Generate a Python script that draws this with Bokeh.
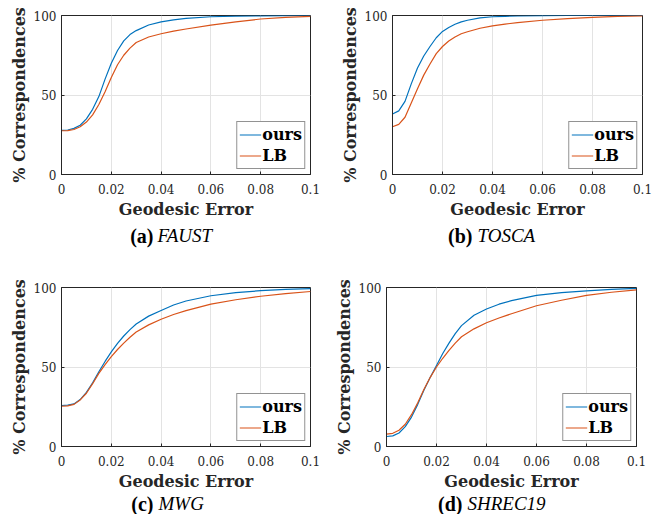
from bokeh.plotting import figure
from bokeh.layouts import column, row
from bokeh.models import Range1d, FixedTicker, Legend, LegendItem
from bokeh.core.properties import value
from bokeh.embed import file_html
from bokeh.resources import INLINE

# ---------------- data ----------------
geo_error = [0, 0.0025, 0.005, 0.0075, 0.01, 0.0125, 0.015, 0.0175, 0.02, 0.0225,
             0.025, 0.0275, 0.03, 0.035, 0.04, 0.045, 0.05, 0.06, 0.07, 0.08, 0.09, 0.1]

faust_ours = [27.8, 28, 29, 31, 35, 41, 49, 60, 70, 78, 84, 88, 90.5, 94, 96, 97.3, 98.2, 99.2, 99.6, 99.8, 99.9, 100]
faust_lb = [27.5, 27.6, 28.3, 30, 33, 37.5, 44, 52, 61, 69, 75, 79.5, 83, 86.5, 88.5, 90.2, 91.5, 94, 96, 97.8, 98.8, 99.5]

tosca_ours = [38, 40, 46, 57, 67, 74.5, 80.5, 86, 90, 92.5, 94.5, 96, 97, 98.5, 99.2, 99.5, 99.7, 99.9, 100, 100, 100, 100]
tosca_lb = [30, 31.5, 36, 45, 54, 62.5, 69.5, 76, 80.5, 84, 86.5, 88.5, 89.8, 92, 93.5, 94.6, 95.5, 97, 98, 98.8, 99.4, 99.8]

mwg_ours = [25.8, 26, 26.8, 29.5, 34, 40, 47, 53.5, 59.5, 64.8, 69.5, 73.5, 77, 82, 85.5, 89, 91.5, 94.8, 96.8, 98, 98.8, 99.3]
mwg_lb = [25.3, 25.5, 26.5, 29.3, 33.5, 39.5, 46, 51.5, 56.5, 61, 65, 68.7, 72, 76.5, 80, 83, 85.5, 89.5, 92.3, 94.5, 96.2, 97.5]

shrec_ours = [6.3, 6.7, 8.5, 12.5, 18.5, 26.5, 35.5, 43.5, 51, 58.5, 65, 71, 76, 82.5, 86.5, 89.5, 91.7, 95, 96.8, 97.9, 98.8, 99.4]
shrec_lb = [7.8, 8.3, 10.2, 14, 20, 27.5, 36, 43.5, 50, 55.5, 60.5, 65, 69, 74, 77.8, 80.8, 83.5, 88.5, 92, 95, 97, 98.5]

x_ticks = [0, 0.02, 0.04, 0.06, 0.08, 0.1]
x_tick_labels = ["0", "0.02", "0.04", "0.06", "0.08", "0.1"]
y_ticks = [0, 50, 100]
y_tick_labels = ["0", "50", "100"]

series_names = ["ours", "LB"]
caption_tags = ["(a)", "(b)", "(c)", "(d)"]
caption_names = ["FAUST", "TOSCA", "MWG", "SHREC19"]
x_label = "Geodesic Error"
y_label = "% Correspondences"

# ---------------- style ----------------
BLUE = "#0072BD"
ORANGE = "#D95319"
AX = "#262626"
FONT = "DejaVu Serif"
CAP_FONT = "Liberation Serif"


def make_panel(ours, lb, bl, br, bt, bb, fw, fh):
    p = figure(frame_width=fw, frame_height=fh, output_backend="svg", toolbar_location=None,
               x_range=Range1d(0, 0.1), y_range=Range1d(0, 100),
               min_border_left=bl, min_border_right=br, min_border_top=bt, min_border_bottom=bb,
               background_fill_color="white", border_fill_color="white")
    p.outline_line_color = AX
    p.outline_line_width = 1
    p.outline_line_alpha = 1

    for ax in (p.xaxis[0], p.yaxis[0]):
        ax.axis_line_color = AX
        ax.major_tick_line_color = AX
        ax.major_tick_in = 3
        ax.major_tick_out = 0
        ax.minor_tick_line_color = None
        ax.major_label_text_font = FONT
        ax.major_label_text_font_size = "12px"
        ax.major_label_text_color = AX
        ax.axis_label_text_font = FONT
        ax.axis_label_text_font_style = "bold"
        ax.axis_label_text_color = AX

    p.xaxis.axis_label_text_font_size = "16px"
    p.yaxis.axis_label_text_font_size = "16px"
    p.xaxis.ticker = FixedTicker(ticks=x_ticks)
    p.xaxis.major_label_overrides = {t: s for t, s in zip(x_ticks, x_tick_labels)}
    p.yaxis.ticker = FixedTicker(ticks=y_ticks)
    p.yaxis.major_label_overrides = {t: s for t, s in zip(y_ticks, y_tick_labels)}
    p.xaxis.axis_label = x_label
    p.yaxis.axis_label = y_label
    p.xaxis.major_label_standoff = 9
    p.xaxis.axis_label_standoff = 3
    p.yaxis.major_label_standoff = 5
    p.yaxis.axis_label_standoff = 2

    p.xgrid.grid_line_color = "#e3e3e3"
    p.ygrid.grid_line_color = "#e3e3e3"
    p.xgrid.ticker = FixedTicker(ticks=x_ticks[1:-1])
    p.ygrid.ticker = FixedTicker(ticks=y_ticks[1:-1])

    r1 = p.line(geo_error, ours, line_color=BLUE, line_width=1.2)
    r2 = p.line(geo_error, lb, line_color=ORANGE, line_width=1.2)

    leg = Legend(items=[LegendItem(label=series_names[0], renderers=[r1]),
                        LegendItem(label=series_names[1], renderers=[r2])],
                 location="bottom_right", margin=5, padding=2, spacing=0,
                 glyph_width=22, glyph_height=21, label_height=21, label_standoff=1,
                 label_text_font=FONT, label_text_font_style="bold",
                 label_text_font_size="16px", label_text_color="black",
                 label_text_baseline="middle",
                 border_line_color=AX, border_line_width=1,
                 background_fill_color="white", background_fill_alpha=1)
    p.add_layout(leg, "center")
    return p


def make_caption(tag, name, w, h, split, yc):
    c = figure(width=w, height=h, output_backend="svg", toolbar_location=None,
               x_range=Range1d(0, w), y_range=Range1d(0, h),
               x_axis_location=None, y_axis_location=None,
               min_border=0, min_border_left=0, min_border_right=0,
               min_border_top=0, min_border_bottom=0,
               background_fill_color="white", border_fill_color="white")
    c.outline_line_color = None
    c.grid.visible = False
    c.text(x=[split[0]], y=[yc], text=[tag], text_align="right", text_baseline="middle",
           text_font=value(CAP_FONT), text_font_style="bold", text_font_size="20px",
           text_color="black")
    c.text(x=[split[1]], y=[yc], text=[name], text_align="left", text_baseline="middle",
           text_font=value(CAP_FONT), text_font_style="italic", text_font_size="19px",
           text_color="black")
    return c


pa = make_panel(faust_ours, faust_lb, 61, 20, 15, 51, 249, 159)
pb = make_panel(tosca_ours, tosca_lb, 62, 21, 15, 51, 250, 159)
pc = make_panel(mwg_ours, mwg_lb, 61, 20, 29, 46, 249, 159)
pd = make_panel(shrec_ours, shrec_lb, 56, 27, 29, 46, 250, 159)

ca = make_caption(caption_tags[0], caption_names[0], 330, 33, (153, 157), 23)
cb = make_caption(caption_tags[1], caption_names[1], 333, 33, (142, 147), 23)
cc = make_caption(caption_tags[2], caption_names[2], 330, 21, (153, 158), 11)
cd = make_caption(caption_tags[3], caption_names[3], 333, 21, (132, 137), 11)

layout = column(row(pa, pb), row(ca, cb), row(pc, pd), row(cc, cd))

open("out.html", "w").write(file_html(layout, INLINE))
